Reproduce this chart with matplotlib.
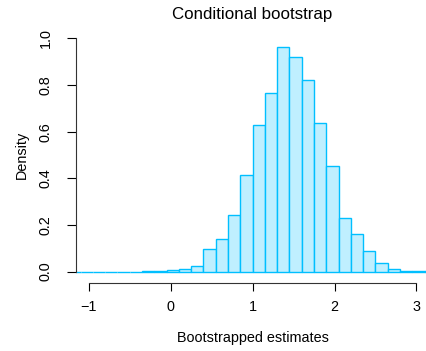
"""Conditional bootstrap histogram (density scale)."""
import matplotlib
matplotlib.use("Agg")
import matplotlib.pyplot as plt

# Histogram bins (left edges, width 0.15) and densities.
BIN_WIDTH = 0.15
BIN_LEFT = [-1.25, -1.10, -0.95, -0.80, -0.65, -0.50, -0.35, -0.20, -0.05,
            0.10, 0.25, 0.40, 0.55, 0.70, 0.85, 1.00, 1.15, 1.30, 1.45,
            1.60, 1.75, 1.90, 2.05, 2.20, 2.35, 2.50, 2.65, 2.80, 2.95, 3.10]
DENSITY = [0.0, 0.0, 0.0, 0.0, 0.0, 0.0, 0.002, 0.003, 0.007,
           0.012, 0.024, 0.096, 0.140, 0.242, 0.414, 0.629, 0.767, 0.964, 0.919,
           0.822, 0.636, 0.454, 0.229, 0.160, 0.090, 0.037, 0.010, 0.004, 0.001, 0.003]

X_TICKS = [-1, 0, 1, 2, 3]
X_TICK_LABELS = ["\u22121", "0", "1", "2", "3"]
Y_TICKS = [0.0, 0.2, 0.4, 0.6, 0.8, 1.0]
Y_TICK_LABELS = ["0.0", "0.2", "0.4", "0.6", "0.8", "1.0"]

TITLE = "Conditional bootstrap"
X_LABEL = "Bootstrapped estimates"
Y_LABEL = "Density"


def main():
    plt.rcParams["font.family"] = ["Liberation Sans", "DejaVu Sans"]

    fig = plt.figure(figsize=(4.27, 3.51), dpi=100)
    # R-style plot region: xlim (-1, 3) and ylim (0, 1) padded by 4%.
    ax = fig.add_axes([0.1773, 0.1994, 0.8286, 0.7177])
    ax.set_xlim(-1.16, 3.16)
    ax.set_ylim(-0.04, 1.04)

    ax.bar(BIN_LEFT, DENSITY, width=BIN_WIDTH, align="edge",
           color="#bfefff", edgecolor="#00bfff", linewidth=1.0)

    for side in ("top", "right"):
        ax.spines[side].set_visible(False)
    ax.spines["left"].set_bounds(0, 1)
    ax.spines["bottom"].set_bounds(-1, 3)
    ax.spines["bottom"].set_position(("outward", 1.2))
    for side in ("left", "bottom"):
        ax.spines[side].set_linewidth(0.8)
        ax.spines[side].set_color("#333333")

    ax.set_xticks(X_TICKS)
    ax.set_xticklabels(X_TICK_LABELS)
    ax.set_yticks(Y_TICKS)
    ax.set_yticklabels(Y_TICK_LABELS, rotation=90, va="center")
    ax.tick_params(axis="x", length=5.5, width=0.8, pad=7, labelsize=10.4)
    ax.tick_params(axis="y", length=6.5, width=0.8, pad=10, labelsize=10.4)

    ax.set_xlabel(X_LABEL, fontsize=10.4)
    ax.xaxis.set_label_coords(0.5, -0.198)
    ax.set_ylabel(Y_LABEL, fontsize=10.4)
    ax.yaxis.set_label_coords(-0.132, 0.5)
    ax.set_title(TITLE, fontsize=12.2, y=1.04, pad=0)

    fig.savefig("out.png", dpi=100)
    plt.close(fig)


if __name__ == "__main__":
    main()
